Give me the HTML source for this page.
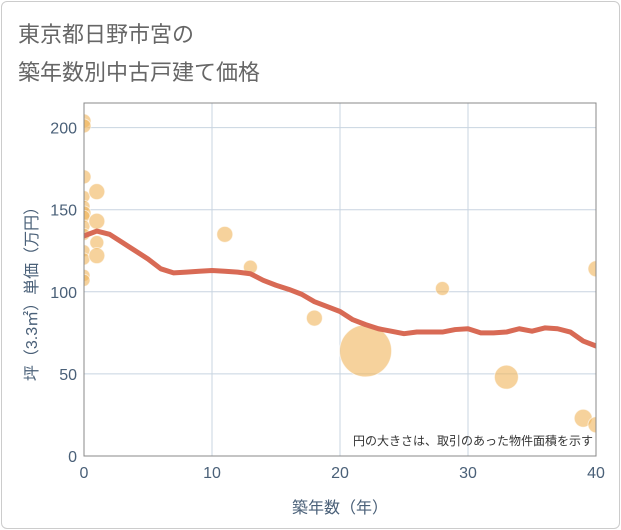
<!DOCTYPE html>
<html><head><meta charset="utf-8"><style>
body{margin:0;background:#fff;font-family:"Liberation Sans","Noto Sans CJK JP",sans-serif;}
#card{position:absolute;left:1px;top:1px;width:617px;height:526px;border:1px solid #ccc;border-radius:6px;}
</style></head><body>
<div id="card"></div>
<svg id="chart" width="621" height="530" style="position:absolute;left:0;top:0">
<defs><clipPath id="plotclip"><rect x="84" y="103" width="512" height="353"/></clipPath></defs>
<text x="18" y="42" font-size="22" fill="#666" font-family="Liberation Sans,Noto Sans CJK JP,sans-serif">東京都日野市宮の</text>
<text x="18" y="80" font-size="22" fill="#666" font-family="Liberation Sans,Noto Sans CJK JP,sans-serif">築年数別中古戸建て価格</text>
<g id="grid"></g><g id="marks" clip-path="url(#plotclip)"></g>
<rect x="84" y="103" width="512" height="353" fill="none" stroke="#888" stroke-width="1"/>
<text x="593" y="445" font-size="12" fill="#333" text-anchor="end" font-family="Liberation Sans,Noto Sans CJK JP,sans-serif">円の大きさは、取引のあった物件面積を示す</text>
<text x="340" y="513" font-size="16" fill="#4a6078" text-anchor="middle" font-family="Liberation Sans,Noto Sans CJK JP,sans-serif">築年数（年）</text>
<text transform="translate(37,290) rotate(-90)" font-size="16" fill="#4a6078" text-anchor="middle" font-family="Liberation Sans,Noto Sans CJK JP,sans-serif">坪（3.3㎡）単価（万円）</text>
</svg>
<script>
const xTicks=[0,10,20,30,40];
const yTicks=[0,50,100,150,200];
const bubbleX=[0,0,0,0,0,0,0,0,0,0,0,0,0,1,1,1,1,11,13,18,22,28,33,39,40,40];
const bubbleY=[204,201,170,158,152,148,146,140,135,125,120,110,107,161,143,130,122,135,115,84,64,102,48,23,114,19];
const bubbleR=[7,7,7,6,6,7,6,6,6,6,6,6,6,8,8,7,8,8,7,8,26,7,12,9,8,8];
const lineX=[0,1,2,3,4,5,6,7,8,9,10,11,12,13,14,15,16,17,18,19,20,21,22,23,24,25,26,27,28,29,30,31,32,33,34,35,36,37,38,39,40];
const lineY=[134,137,135,130,125,120,114,111.5,112,112.5,113,112.5,112,111,107,104,101.5,98.5,94,91,88,83,80,77.5,76,74.5,75.5,75.5,75.5,77,77.5,75,75,75.5,77.5,76,78,77.5,75.5,70,67];
const X=v=>84+v*12.8, Y=v=>456-v*1.642;
const NS="http://www.w3.org/2000/svg";
const grid=document.getElementById('grid'), marks=document.getElementById('marks');
function mk(tag,attrs,parent){const e=document.createElementNS(NS,tag);for(const k in attrs)e.setAttribute(k,attrs[k]);parent.appendChild(e);return e;}
xTicks.forEach(t=>{
 const l=mk('line',{x1:X(t),x2:X(t),y1:103,y2:456,stroke:'#c8d4e0'},grid);
 
 
 const tx=mk('text',{x:X(t),y:478,'font-size':16,fill:'#4a6078','text-anchor':'middle'},grid);
 tx.textContent=t;
 
 
});
yTicks.forEach(t=>{
 const l=mk('line',{x1:84,x2:596,y1:Y(t),y2:Y(t),stroke:'#c8d4e0'},grid);
 
 
 const tx=mk('text',{x:77,y:Y(t)+6,'font-size':16,fill:'#4a6078','text-anchor':'end'},grid);
 tx.textContent=t;
 
 
});
bubbleX.forEach((v,i)=>{
 const c=mk('circle',{cx:X(v),cy:Y(bubbleY[i]),r:bubbleR[i],fill:'rgba(240,180,90,0.6)',stroke:'rgba(255,255,255,0.6)'},marks);
 
 
});
const p=mk('polyline',{points:lineX.map((v,i)=>X(v)+','+Y(lineY[i])).join(' '),fill:'none',stroke:'#d86a55',"stroke-width":5,"stroke-linejoin":'round',"stroke-linecap":'round'},marks);


</script>
</body></html>
